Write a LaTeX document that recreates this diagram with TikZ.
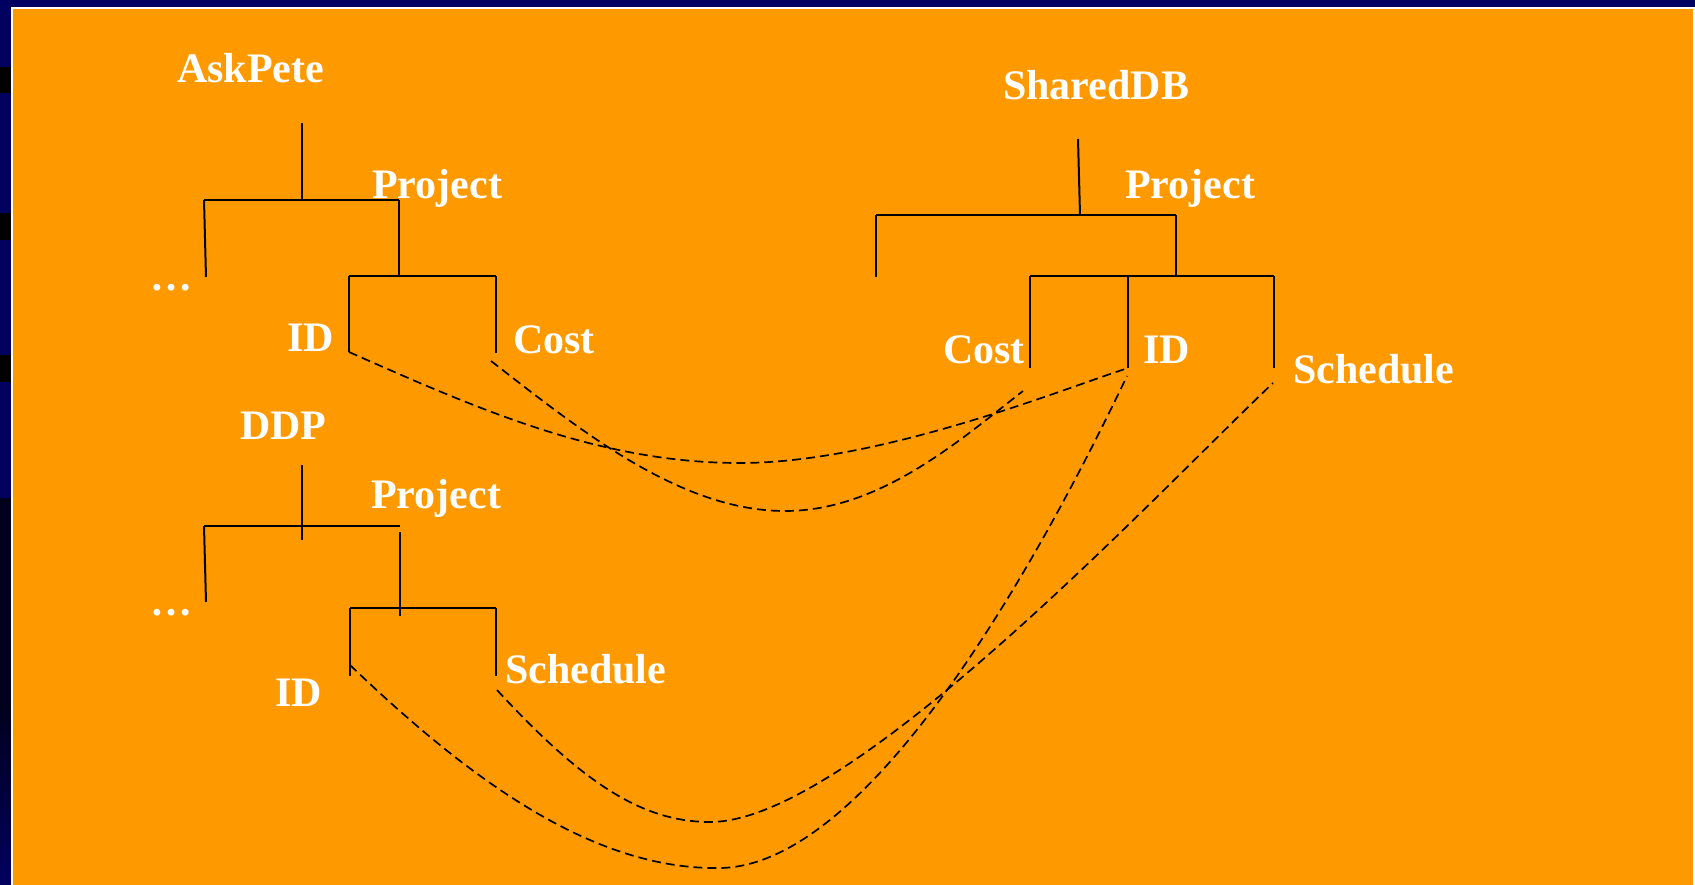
\documentclass[tikz,border=0pt]{standalone}
\usepackage{fontspec}
\setmainfont{Liberation Serif}
\definecolor{slide}{RGB}{255,153,0}
\definecolor{navy}{RGB}{0,0,96}
\definecolor{deepnavy}{RGB}{0,0,28}
\begin{document}
\begin{tikzpicture}[x=1pt, y=-1pt,
    lbl/.style={anchor=base west, inner sep=0, text=white, font=\fontsize{42}{50}\selectfont\bfseries},
    tree/.style={line width=2pt},
    link/.style={line width=1.7pt, dash pattern=on 9pt off 5pt}]
  \useasboundingbox (0,0) rectangle (1695,885);
  % frame
  \fill[navy] (0,0) rectangle (1695,885);
  \fill[black] (0,67) rectangle (11,93);
  \fill[black] (0,213) rectangle (11,240);
  \fill[black] (0,355) rectangle (11,382);
  \fill[deepnavy] (0,498) rectangle (11,700);
  \shade[top color=deepnavy, bottom color=navy] (0,700) rectangle (11,885);
  \fill[white] (11,7) rectangle (1695,885);
  \fill[slide] (12.5,9) rectangle (1693,885);

  % AskPete
  \node[lbl] (AP) at (177,83) {AskPete};
  \node[lbl] (APp) at (372,199) {Project};
  \node[lbl] (APd) at (150,291) {…};
  \node[lbl] (APi) at (287,352) {ID};
  \node[lbl] (APc) at (513,353) {Cost};

  \coordinate (AT) at (302,123);
  \coordinate (AJ) at (302,200);
  \coordinate (AL) at (204,200);
  \coordinate (AR) at (399,200);
  \coordinate (AM) at (206,277);
  \coordinate (AS) at (399,276);
  \coordinate (ASL) at (349,276);
  \coordinate (ASR) at (496,276);
  \coordinate (AI) at (349,352);
  \coordinate (AC) at (496,353);

  \draw[tree] (AT) -- (AJ);
  \draw[tree] (AL) -- (AR);
  \draw[tree] (AL) -- (AM);
  \draw[tree] (AR) -- (AS);
  \draw[tree] (ASL) -- (ASR);
  \draw[tree] (ASL) -- (AI);
  \draw[tree] (ASR) -- (AC);

  % DDP
  \node[lbl] (DP) at (240,439) {DDP};
  \node[lbl] (DPp) at (371,508) {Project};
  \node[lbl] (DPd) at (150,615) {…};
  \node[lbl] (DPi) at (275,706) {ID};
  \node[lbl] (DPs) at (505,683) {Schedule};

  \coordinate (DT) at (302,465);
  \coordinate (DB) at (302,540);
  \coordinate (DL) at (204,526);
  \coordinate (DR) at (400,526);
  \coordinate (DM) at (206,602);
  \coordinate (DRa) at (400,532);
  \coordinate (DS) at (400,616);
  \coordinate (DSL) at (350,608);
  \coordinate (DSR) at (496,608);
  \coordinate (DI) at (350,676);
  \coordinate (DC) at (496,676);

  \draw[tree] (DT) -- (DB);
  \draw[tree] (DL) -- (DR);
  \draw[tree] (DL) -- (DM);
  \draw[tree] (DRa) -- (DS);
  \draw[tree] (DSL) -- (DSR);
  \draw[tree] (DSL) -- (DI);
  \draw[tree] (DSR) -- (DC);

  % SharedDB
  \node[lbl] (SD) at (1003,100) {SharedDB};
  \node[lbl] (SDp) at (1125,199) {Project};
  \node[lbl] (SDc) at (943,363) {Cost};
  \node[lbl] (SDi) at (1143,363) {ID};
  \node[lbl] (SDs) at (1293,383) {Schedule};

  \coordinate (ST) at (1078,139);
  \coordinate (SJ) at (1080,215);
  \coordinate (SL) at (876,215);
  \coordinate (SR) at (1176,215);
  \coordinate (SM) at (876,277);
  \coordinate (SS) at (1176,276);
  \coordinate (SSL) at (1030,276);
  \coordinate (SSR) at (1274,276);
  \coordinate (SIa) at (1128,276);
  \coordinate (SC) at (1030,368);
  \coordinate (SI) at (1128,368);
  \coordinate (SH) at (1274,368);

  \draw[tree] (ST) -- (SJ);
  \draw[tree] (SL) -- (SR);
  \draw[tree] (SL) -- (SM);
  \draw[tree] (SR) -- (SS);
  \draw[tree] (SSL) -- (SSR);
  \draw[tree] (SSL) -- (SC);
  \draw[tree] (SIa) -- (SI);
  \draw[tree] (SSR) -- (SH);

  % links
  \coordinate (LB1) at (491,361);
  \coordinate (LB2) at (1023,391);
  \coordinate (LC1) at (350,665);
  \coordinate (LC2) at (1127,376);
  \coordinate (LD1) at (497,690);
  \coordinate (LD2) at (1273,383);

  \draw[link] (AI) .. controls (480,410) and (600,463) .. (740,463)
                   .. controls (880,463) and (1060,390) .. (SI);
  \draw[link] (LB1) .. controls (580,430) and (680,511) .. (785,511)
                    .. controls (880,511) and (960,440) .. (LB2);
  \draw[link] (LC1) .. controls (480,790) and (600,870) .. (720,868)
                    .. controls (860,866) and (1020,600) .. (LC2);
  \draw[link] (LD1) .. controls (580,780) and (640,822) .. (710,822)
                    .. controls (850,822) and (1150,500) .. (LD2);
\end{tikzpicture}
\end{document}
